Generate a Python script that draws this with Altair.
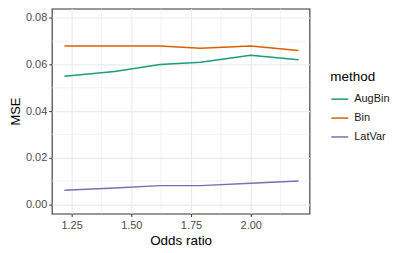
import altair as alt
import pandas as pd

odds = [1.22, 1.43, 1.62, 1.79, 2.00, 2.20]
augbin = [0.055, 0.057, 0.060, 0.061, 0.064, 0.062]
bin_vals = [0.068, 0.068, 0.068, 0.067, 0.068, 0.066]
latvar = [0.006, 0.007, 0.008, 0.008, 0.009, 0.010]
methods = ["AugBin", "Bin", "LatVar"]
colors = ["#1B9E77", "#D95F02", "#7570B3"]
x_major = [1.25, 1.50, 1.75, 2.00]
x_minor = [1.375, 1.625, 1.875, 2.125]
y_major = [0.00, 0.02, 0.04, 0.06, 0.08]
y_minor = [0.01, 0.03, 0.05, 0.07]

rows = []
for m, vals in zip(methods, [augbin, bin_vals, latvar]):
    for o, v in zip(odds, vals):
        rows.append({"odds": o, "mse": v, "method": m})
df = pd.DataFrame(rows)

xscale = alt.Scale(domain=[1.167, 2.246], nice=False, zero=False)
yscale = alt.Scale(domain=[-0.004, 0.084], nice=False, zero=False)

xaxis = alt.Axis(values=x_major, format=".2f", title="Odds ratio", grid=True,
                 gridColor="#ebebeb", gridWidth=1.1, domain=False,
                 tickColor="#333333", tickSize=3, labelColor="#4d4d4d",
                 labelFontSize=11, labelPadding=3, titleFontSize=13.5,
                 titleFontWeight="normal", titleColor="#000000", titlePadding=3,
                 labelFont="Liberation Sans", titleFont="Liberation Sans")
yaxis = alt.Axis(values=y_major, format=".2f", title="MSE", grid=True,
                 gridColor="#ebebeb", gridWidth=1.1, domain=False,
                 tickColor="#333333", tickSize=3, labelColor="#4d4d4d",
                 labelFontSize=11, labelPadding=2, titleFontSize=13,
                 titleFontWeight="normal", titleColor="#000000", titlePadding=3,
                 labelFont="Liberation Sans", titleFont="Liberation Sans")

vminor = alt.Chart(pd.DataFrame({"odds": x_minor})).mark_rule(
    color="#ebebeb", strokeWidth=0.6
).encode(x=alt.X("odds:Q", scale=xscale, axis=xaxis))

hminor = alt.Chart(pd.DataFrame({"mse": y_minor})).mark_rule(
    color="#ebebeb", strokeWidth=0.6
).encode(y=alt.Y("mse:Q", scale=yscale, axis=yaxis))

lines = alt.Chart(df).mark_line(strokeWidth=1.5).encode(
    x=alt.X("odds:Q", scale=xscale, axis=xaxis),
    y=alt.Y("mse:Q", scale=yscale, axis=yaxis),
    color=alt.Color("method:N",
                    scale=alt.Scale(domain=methods, range=colors),
                    legend=alt.Legend(title="method", orient="none",
                                      legendX=280, legendY=62,
                                      symbolType="stroke", symbolSize=289,
                                      symbolStrokeWidth=1.5, rowPadding=4,
                                      labelFontSize=11, titleFontSize=13.5,
                                      titleFontWeight="normal",
                                      titleColor="#000000", labelColor="#1a1a1a",
                                      titlePadding=6, labelOffset=5,
                                      labelFont="Liberation Sans",
                                      titleFont="Liberation Sans")),
)

chart = alt.layer(vminor, hminor, lines).properties(
    width=259, height=206,
    autosize=alt.AutoSizeParams(type="none"),
    padding={"left": 44, "top": 0, "right": 90, "bottom": 38},
).configure_view(stroke="#333333", strokeWidth=1.1)

chart.save("out.html", embed_options={"renderer": "svg", "actions": False})
